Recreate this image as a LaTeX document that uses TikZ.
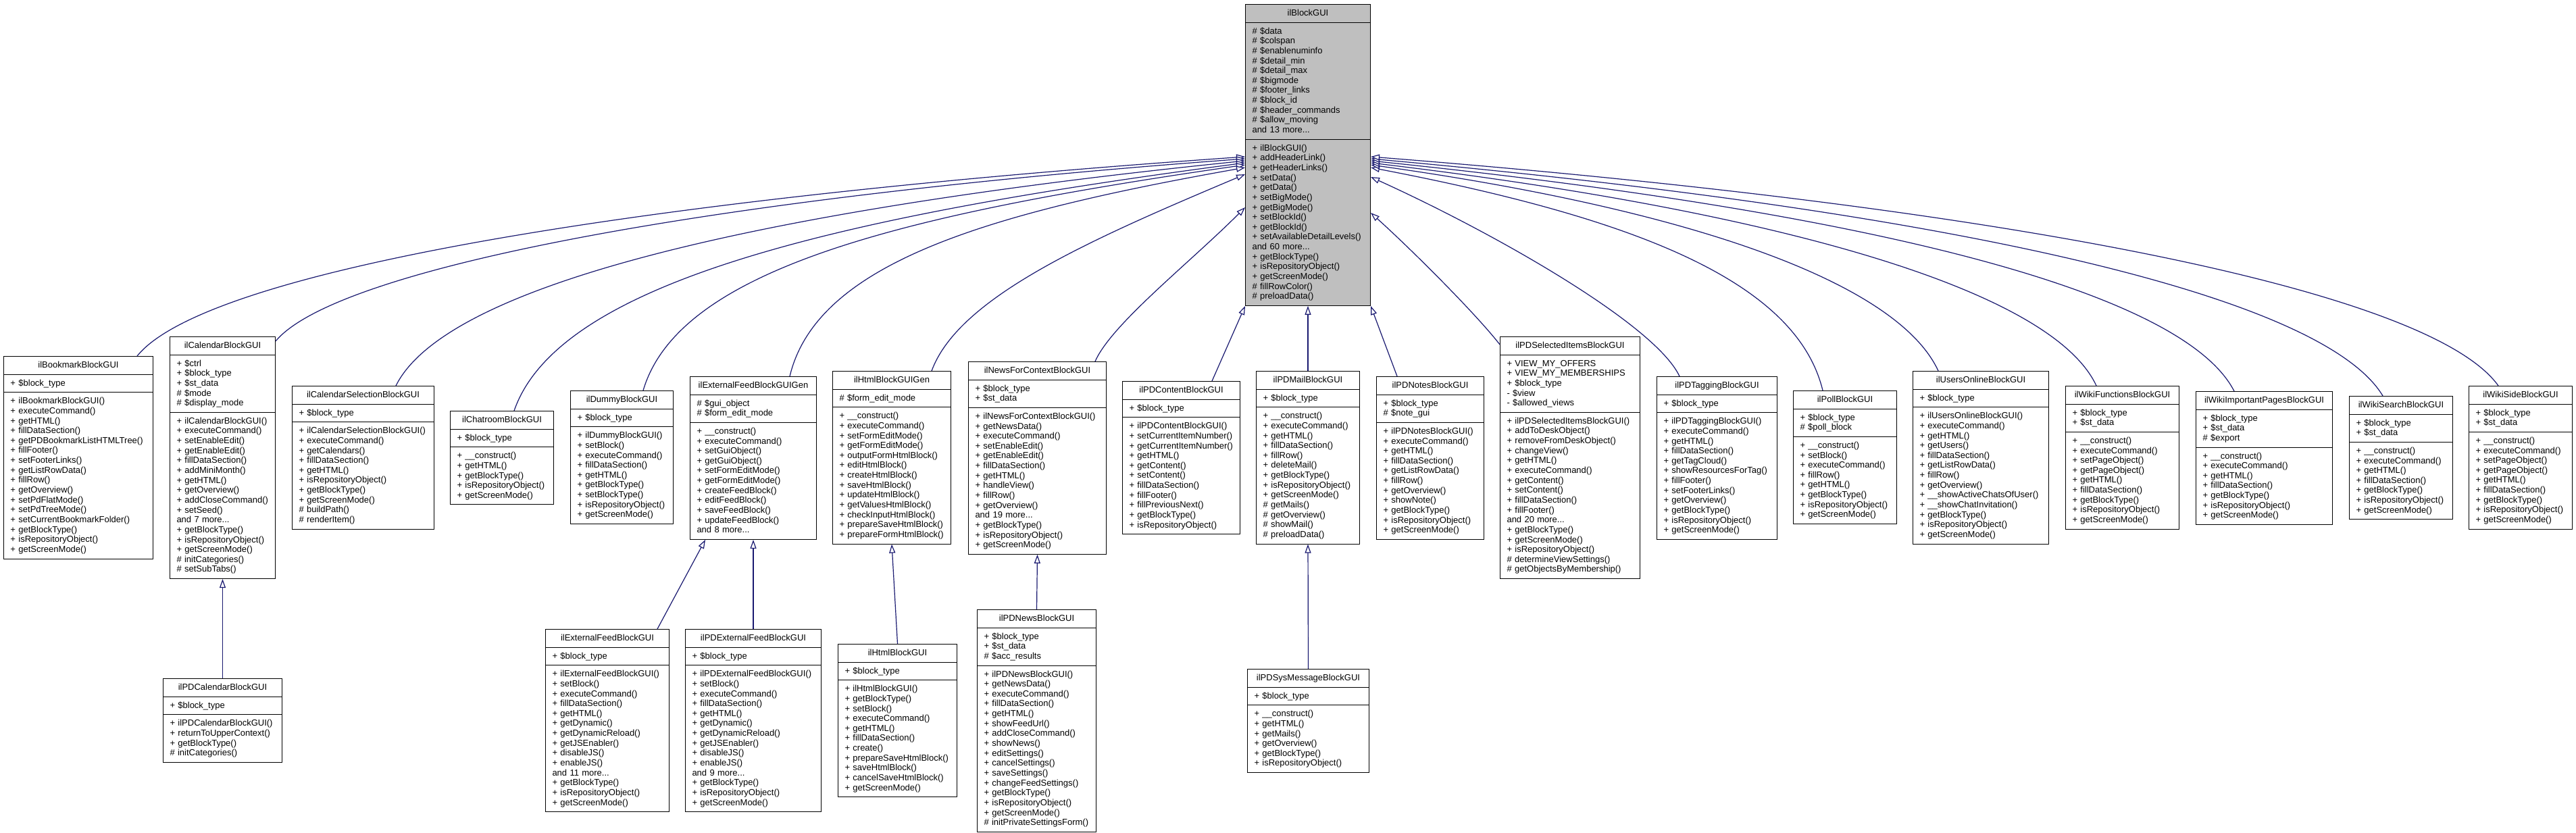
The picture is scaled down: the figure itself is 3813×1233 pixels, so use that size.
\documentclass[tikz,border=0pt]{standalone}
\usepackage{fontspec}
\setmainfont{Liberation Sans}
\usetikzlibrary{shapes.multipart,arrows.meta}
\definecolor{edgeblue}{HTML}{191970}
\definecolor{basegray}{HTML}{BFBFBF}
\newcommand\lnst{\rule[-3.64pt]{0pt}{14.64pt}}
\newcommand\cbox[3]{\noindent\hbox to\hsize{\hss\lnst #1\lnst\hss}\nodepart{two}\lnst #2\lnst\nodepart{three}\lnst #3\lnst}
\tikzset{
  cls/.style={rectangle split, rectangle split parts=3, draw=black, line width=1pt,
    fill=white, anchor=north west, inner xsep=10pt, inner ysep=5.5pt,
    font=\fontsize{13}{14.64}\selectfont, align=left},
  inh/.style={draw=edgeblue, line width=1.2pt, -{Triangle[length=13pt,width=9pt,fill=white]}}
}
\begin{document}
\begin{tikzpicture}[x=1pt,y=-1pt]
\useasboundingbox (0,0) rectangle (3813,1233);
\fill[white] (0,0) rectangle (3813,1233);

\node[cls, fill=basegray, text width=165pt] (base) at (1843,6) {\cbox{ilBlockGUI}
{\#~\$data\\ \#~\$colspan\\ \#~\$enablenuminfo\\ \#~\$detail\_min\\ \#~\$detail\_max\\ \#~\$bigmode\\ \#~\$footer\_links\\ \#~\$block\_id\\ \#~\$header\_commands\\ \#~\$allow\_moving\\ and 13 more...}
{+~ilBlockGUI()\\ +~addHeaderLink()\\ +~getHeaderLinks()\\ +~setData()\\ +~getData()\\ +~setBigMode()\\ +~getBigMode()\\ +~setBlockId()\\ +~getBlockId()\\ +~setAvailableDetailLevels()\\ and 60 more...\\ +~getBlockType()\\ +~isRepositoryObject()\\ +~getScreenMode()\\ \#~fillRowColor()\\ \#~preloadData()}};

\node[cls, text width=201pt] (bm) at (5,527) {\cbox{ilBookmarkBlockGUI}
{+~\$block\_type}
{+~ilBookmarkBlockGUI()\\ +~executeCommand()\\ +~getHTML()\\ +~fillDataSection()\\ +~getPDBookmarkListHTMLTree()\\ +~fillFooter()\\ +~setFooterLinks()\\ +~getListRowData()\\ +~fillRow()\\ +~getOverview()\\ +~setPdFlatMode()\\ +~setPdTreeMode()\\ +~setCurrentBookmarkFolder()\\ +~getBlockType()\\ +~isRepositoryObject()\\ +~getScreenMode()}};

\node[cls, text width=136pt] (cal) at (251,498) {\cbox{ilCalendarBlockGUI}
{+~\$ctrl\\ +~\$block\_type\\ +~\$st\_data\\ \#~\$mode\\ \#~\$display\_mode}
{+~ilCalendarBlockGUI()\\ +~executeCommand()\\ +~setEnableEdit()\\ +~getEnableEdit()\\ +~fillDataSection()\\ +~addMiniMonth()\\ +~getHTML()\\ +~getOverview()\\ +~addCloseCommand()\\ +~setSeed()\\ and 7 more...\\ +~getBlockType()\\ +~isRepositoryObject()\\ +~getScreenMode()\\ \#~initCategories()\\ \#~setSubTabs()}};

\node[cls, text width=190pt] (cals) at (432,571) {\cbox{ilCalendarSelectionBlockGUI}
{+~\$block\_type}
{+~ilCalendarSelectionBlockGUI()\\ +~executeCommand()\\ +~getCalendars()\\ +~fillDataSection()\\ +~getHTML()\\ +~isRepositoryObject()\\ +~getBlockType()\\ +~getScreenMode()\\ \#~buildPath()\\ \#~renderItem()}};

\node[cls, text width=133pt] (chat) at (666,608) {\cbox{ilChatroomBlockGUI}
{+~\$block\_type}
{+~\_\_construct()\\ +~getHTML()\\ +~getBlockType()\\ +~isRepositoryObject()\\ +~getScreenMode()}};

\node[cls, text width=132pt] (dummy) at (844,578) {\cbox{ilDummyBlockGUI}
{+~\$block\_type}
{+~ilDummyBlockGUI()\\ +~setBlock()\\ +~executeCommand()\\ +~fillDataSection()\\ +~getHTML()\\ +~getBlockType()\\ +~setBlockType()\\ +~isRepositoryObject()\\ +~getScreenMode()}};

\node[cls, text width=167pt] (efgen) at (1021,557) {\cbox{ilExternalFeedBlockGUIGen}
{\#~\$gui\_object\\ \#~\$form\_edit\_mode}
{+~\_\_construct()\\ +~executeCommand()\\ +~setGuiObject()\\ +~getGuiObject()\\ +~setFormEditMode()\\ +~getFormEditMode()\\ +~createFeedBlock()\\ +~editFeedBlock()\\ +~saveFeedBlock()\\ +~updateFeedBlock()\\ and 8 more...}};

\node[cls, text width=155pt] (htmlgen) at (1232,549) {\cbox{ilHtmlBlockGUIGen}
{\#~\$form\_edit\_mode}
{+~\_\_construct()\\ +~executeCommand()\\ +~setFormEditMode()\\ +~getFormEditMode()\\ +~outputFormHtmlBlock()\\ +~editHtmlBlock()\\ +~createHtmlBlock()\\ +~saveHtmlBlock()\\ +~updateHtmlBlock()\\ +~getValuesHtmlBlock()\\ +~checkInputHtmlBlock()\\ +~prepareSaveHtmlBlock()\\ +~prepareFormHtmlBlock()}};

\node[cls, text width=184pt] (news) at (1433,535) {\cbox{ilNewsForContextBlockGUI}
{+~\$block\_type\\ +~\$st\_data}
{+~ilNewsForContextBlockGUI()\\ +~getNewsData()\\ +~executeCommand()\\ +~setEnableEdit()\\ +~getEnableEdit()\\ +~fillDataSection()\\ +~getHTML()\\ +~handleView()\\ +~fillRow()\\ +~getOverview()\\ and 19 more...\\ +~getBlockType()\\ +~isRepositoryObject()\\ +~getScreenMode()}};

\node[cls, text width=154pt] (pdc) at (1661,564) {\cbox{ilPDContentBlockGUI}
{+~\$block\_type}
{+~ilPDContentBlockGUI()\\ +~setCurrentItemNumber()\\ +~getCurrentItemNumber()\\ +~getHTML()\\ +~getContent()\\ +~setContent()\\ +~fillDataSection()\\ +~fillFooter()\\ +~fillPreviousNext()\\ +~getBlockType()\\ +~isRepositoryObject()}};

\node[cls, text width=133pt] (mail) at (1859,549) {\cbox{ilPDMailBlockGUI}
{+~\$block\_type}
{+~\_\_construct()\\ +~executeCommand()\\ +~getHTML()\\ +~fillDataSection()\\ +~fillRow()\\ +~deleteMail()\\ +~getBlockType()\\ +~isRepositoryObject()\\ +~getScreenMode()\\ \#~getMails()\\ \#~getOverview()\\ \#~showMail()\\ \#~preloadData()}};

\node[cls, text width=139pt] (notes) at (2037,557) {\cbox{ilPDNotesBlockGUI}
{+~\$block\_type\\ \#~\$note\_gui}
{+~ilPDNotesBlockGUI()\\ +~executeCommand()\\ +~getHTML()\\ +~fillDataSection()\\ +~getListRowData()\\ +~fillRow()\\ +~getOverview()\\ +~showNote()\\ +~getBlockType()\\ +~isRepositoryObject()\\ +~getScreenMode()}};

\node[cls, text width=187pt] (sel) at (2220,498) {\cbox{ilPDSelectedItemsBlockGUI}
{+~VIEW\_MY\_OFFERS\\ +~VIEW\_MY\_MEMBERSHIPS\\ +~\$block\_type\\ -~\$view\\ -~\$allowed\_views}
{+~ilPDSelectedItemsBlockGUI()\\ +~addToDeskObject()\\ +~removeFromDeskObject()\\ +~changeView()\\ +~getHTML()\\ +~executeCommand()\\ +~getContent()\\ +~setContent()\\ +~fillDataSection()\\ +~fillFooter()\\ and 20 more...\\ +~getBlockType()\\ +~getScreenMode()\\ +~isRepositoryObject()\\ \#~determineViewSettings()\\ \#~getObjectsByMembership()}};

\node[cls, text width=158pt] (tag) at (2452,557) {\cbox{ilPDTaggingBlockGUI}
{+~\$block\_type}
{+~ilPDTaggingBlockGUI()\\ +~executeCommand()\\ +~getHTML()\\ +~fillDataSection()\\ +~getTagCloud()\\ +~showResourcesForTag()\\ +~fillFooter()\\ +~setFooterLinks()\\ +~getOverview()\\ +~getBlockType()\\ +~isRepositoryObject()\\ +~getScreenMode()}};

\node[cls, text width=133pt] (poll) at (2654,578) {\cbox{ilPollBlockGUI}
{+~\$block\_type\\ \#~\$poll\_block}
{+~\_\_construct()\\ +~setBlock()\\ +~executeCommand()\\ +~fillRow()\\ +~getHTML()\\ +~getBlockType()\\ +~isRepositoryObject()\\ +~getScreenMode()}};

\node[cls, text width=181pt] (users) at (2831,549) {\cbox{ilUsersOnlineBlockGUI}
{+~\$block\_type}
{+~ilUsersOnlineBlockGUI()\\ +~executeCommand()\\ +~getHTML()\\ +~getUsers()\\ +~fillDataSection()\\ +~getListRowData()\\ +~fillRow()\\ +~getOverview()\\ +~\_\_showActiveChatsOfUser()\\ +~\_\_showChatInvitation()\\ +~getBlockType()\\ +~isRepositoryObject()\\ +~getScreenMode()}};

\node[cls, text width=148pt] (wf) at (3057,571) {\cbox{ilWikiFunctionsBlockGUI}
{+~\$block\_type\\ +~\$st\_data}
{+~\_\_construct()\\ +~executeCommand()\\ +~setPageObject()\\ +~getPageObject()\\ +~getHTML()\\ +~fillDataSection()\\ +~getBlockType()\\ +~isRepositoryObject()\\ +~getScreenMode()}};

\node[cls, text width=182pt] (wip) at (3250,579) {\cbox{ilWikiImportantPagesBlockGUI}
{+~\$block\_type\\ +~\$st\_data\\ \#~\$export}
{+~\_\_construct()\\ +~executeCommand()\\ +~getHTML()\\ +~fillDataSection()\\ +~getBlockType()\\ +~isRepositoryObject()\\ +~getScreenMode()}};

\node[cls, text width=133pt] (ws) at (3477,586) {\cbox{ilWikiSearchBlockGUI}
{+~\$block\_type\\ +~\$st\_data}
{+~\_\_construct()\\ +~executeCommand()\\ +~getHTML()\\ +~fillDataSection()\\ +~getBlockType()\\ +~isRepositoryObject()\\ +~getScreenMode()}};

\node[cls, text width=133pt] (wside) at (3654,571) {\cbox{ilWikiSideBlockGUI}
{+~\$block\_type\\ +~\$st\_data}
{+~\_\_construct()\\ +~executeCommand()\\ +~setPageObject()\\ +~getPageObject()\\ +~getHTML()\\ +~fillDataSection()\\ +~getBlockType()\\ +~isRepositoryObject()\\ +~getScreenMode()}};

\node[cls, text width=156pt] (pdcal) at (241,1004) {\cbox{ilPDCalendarBlockGUI}
{+~\$block\_type}
{+~ilPDCalendarBlockGUI()\\ +~returnToUpperContext()\\ +~getBlockType()\\ \#~initCategories()}};

\node[cls, text width=163pt] (ef) at (807,931) {\cbox{ilExternalFeedBlockGUI}
{+~\$block\_type}
{+~ilExternalFeedBlockGUI()\\ +~setBlock()\\ +~executeCommand()\\ +~fillDataSection()\\ +~getHTML()\\ +~getDynamic()\\ +~getDynamicReload()\\ +~getJSEnabler()\\ +~disableJS()\\ +~enableJS()\\ and 11 more...\\ +~getBlockType()\\ +~isRepositoryObject()\\ +~getScreenMode()}};

\node[cls, text width=181pt] (pdef) at (1014,931) {\cbox{ilPDExternalFeedBlockGUI}
{+~\$block\_type}
{+~ilPDExternalFeedBlockGUI()\\ +~setBlock()\\ +~executeCommand()\\ +~fillDataSection()\\ +~getHTML()\\ +~getDynamic()\\ +~getDynamicReload()\\ +~getJSEnabler()\\ +~disableJS()\\ +~enableJS()\\ and 9 more...\\ +~getBlockType()\\ +~isRepositoryObject()\\ +~getScreenMode()}};

\node[cls, text width=156pt] (html) at (1240,953) {\cbox{ilHtmlBlockGUI}
{+~\$block\_type}
{+~ilHtmlBlockGUI()\\ +~getBlockType()\\ +~setBlock()\\ +~executeCommand()\\ +~getHTML()\\ +~fillDataSection()\\ +~create()\\ +~prepareSaveHtmlBlock()\\ +~saveHtmlBlock()\\ +~cancelSaveHtmlBlock()\\ +~getScreenMode()}};

\node[cls, text width=156pt] (pdnews) at (1446,902) {\cbox{ilPDNewsBlockGUI}
{+~\$block\_type\\ +~\$st\_data\\ \#~\$acc\_results}
{+~ilPDNewsBlockGUI()\\ +~getNewsData()\\ +~executeCommand()\\ +~fillDataSection()\\ +~getHTML()\\ +~showFeedUrl()\\ +~addCloseCommand()\\ +~showNews()\\ +~editSettings()\\ +~cancelSettings()\\ +~saveSettings()\\ +~changeFeedSettings()\\ +~getBlockType()\\ +~isRepositoryObject()\\ +~getScreenMode()\\ \#~initPrivateSettingsForm()}};

\node[cls, text width=160pt] (sys) at (1846,990) {\cbox{ilPDSysMessageBlockGUI}
{+~\$block\_type}
{+~\_\_construct()\\ +~getHTML()\\ +~getMails()\\ +~getOverview()\\ +~getBlockType()\\ +~isRepositoryObject()}};

% inheritance connectors
\draw[inh] ([xshift=198pt]bm.north west) .. controls (301,405) and (908,297) .. ([yshift=-226pt]base.north west);
\draw[inh] ([yshift=-7pt]cal.north east) .. controls (495,400) and (1026,295) .. ([yshift=-229pt]base.north west);
\draw[inh] ([xshift=154pt]cals.north west) .. controls (661,420) and (1127,311) .. ([yshift=-232pt]base.north west);
\draw[inh] ([xshift=95pt]chat.north west) .. controls (826,420) and (1226,322) .. ([yshift=-235pt]base.north west);
\draw[inh] ([xshift=108pt]dummy.north west) .. controls (1005,398) and (1335,317) .. ([yshift=-238pt]base.north west);
\draw[inh] ([xshift=148pt]efgen.north west) .. controls (1209,390) and (1459,316) .. ([yshift=-242pt]base.north west);
\draw[inh] ([xshift=147pt]htmlgen.north west) .. controls (1419,440) and (1613,355) .. ([yshift=-252pt]base.north west);
\draw[inh] ([xshift=188pt]news.north west) .. controls (1645,480) and (1760,390) .. ([yshift=-301pt]base.north west);
\draw[inh] ([xshift=133pt]pdc.north west) -- (base.south west);
\draw[inh] (mail.north) -- (base.south);
\draw[inh] ([xshift=31pt]notes.north west) -- (base.south east);
\draw[inh] ([yshift=-12pt]sel.north west) .. controls (2185,465) and (2090,370) .. ([yshift=-309pt]base.north east);
\draw[inh] ([xshift=34pt]tag.north west) .. controls (2450,480) and (2210,344) .. ([yshift=-256pt]base.north east);
\draw[inh] ([xshift=44pt]poll.north west) .. controls (2658,413) and (2410,321) .. ([yshift=-242pt]base.north east);
\draw[inh] ([xshift=38pt]users.north west) .. controls (2809,419) and (2507,311) .. ([yshift=-238pt]base.north east);
\draw[inh] ([xshift=46pt]wf.north west) .. controls (3038,431) and (2641,314) .. ([yshift=-235pt]base.north east);
\draw[inh] ([xshift=57pt]wip.north west) .. controls (3230,429) and (2757,313) .. ([yshift=-232pt]base.north east);
\draw[inh] ([xshift=50pt]ws.north west) .. controls (3437,436) and (2882,312) .. ([yshift=-229pt]base.north east);
\draw[inh] ([xshift=44pt]wside.north west) .. controls (3598,431) and (2980,307) .. ([yshift=-226pt]base.north east);

\draw[inh] (pdcal.north) -- (cal.south);
\draw[inh] ([xshift=-18pt]ef.north east) -- ([xshift=23pt]efgen.south west);
\draw[inh] (pdef.north) -- (efgen.south);
\draw[inh] (html.north) -- (htmlgen.south);
\draw[inh] (pdnews.north) -- (news.south);
\draw[inh] (sys.north) -- (mail.south);
\end{tikzpicture}
\end{document}
